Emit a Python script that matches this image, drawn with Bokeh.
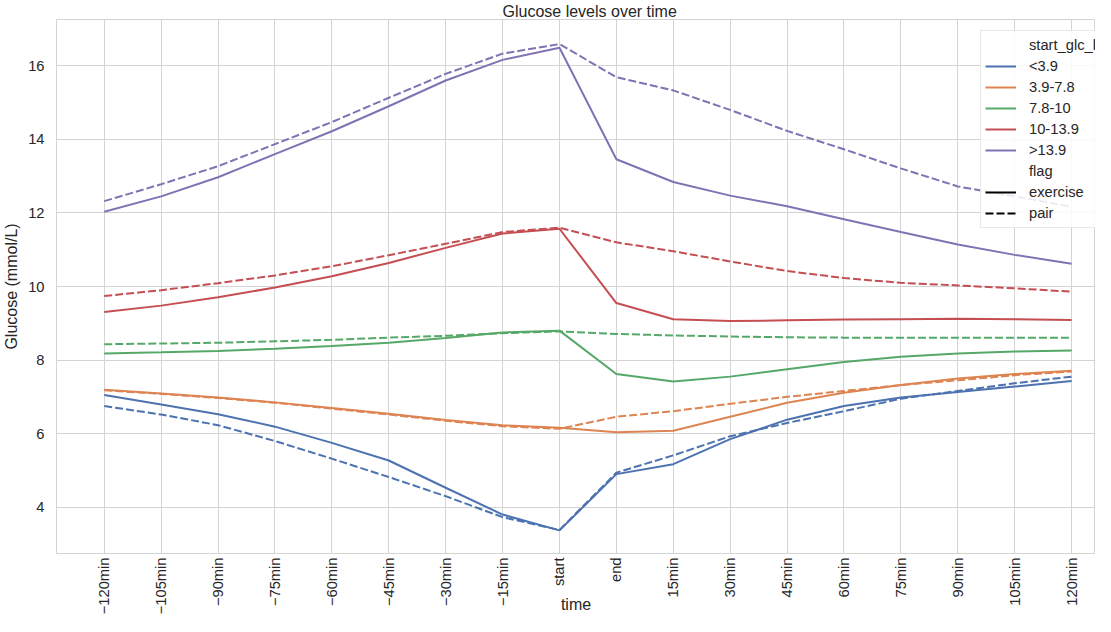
import math
from bokeh.plotting import figure
from bokeh.models import (FixedTicker, Legend, LegendItem, Range1d)
from bokeh.embed import file_html
from bokeh.resources import INLINE

# ---- data -----------------------------------------------------------------
times = ["\u2212120min", "\u2212105min", "\u221290min", "\u221275min", "\u221260min",
         "\u221245min", "\u221230min", "\u221215min", "start", "end", "15min", "30min",
         "45min", "60min", "75min", "90min", "105min", "120min"]

bins = ["<3.9", "3.9-7.8", "7.8-10", "10-13.9", ">13.9"]

exercise_lt39 = [7.05, 6.79, 6.53, 6.19, 5.75, 5.27, 4.53, 3.80, 3.37, 4.90, 5.17, 5.85, 6.38, 6.75, 6.98, 7.13, 7.28, 7.43]
pair_lt39 = [6.75, 6.52, 6.23, 5.80, 5.32, 4.82, 4.30, 3.73, 3.38, 4.94, 5.41, 5.93, 6.29, 6.61, 6.95, 7.16, 7.37, 7.55]

exercise_39_78 = [7.19, 7.09, 6.98, 6.85, 6.70, 6.54, 6.37, 6.23, 6.16, 6.04, 6.08, 6.46, 6.84, 7.11, 7.32, 7.50, 7.62, 7.71]
pair_39_78 = [7.18, 7.08, 6.97, 6.84, 6.68, 6.52, 6.35, 6.20, 6.13, 6.46, 6.61, 6.81, 7.00, 7.16, 7.32, 7.45, 7.59, 7.69]

exercise_78_10 = [8.18, 8.21, 8.25, 8.31, 8.38, 8.47, 8.60, 8.75, 8.80, 7.62, 7.42, 7.55, 7.75, 7.95, 8.09, 8.18, 8.23, 8.26]
pair_78_10 = [8.43, 8.45, 8.47, 8.51, 8.55, 8.61, 8.66, 8.73, 8.78, 8.71, 8.67, 8.64, 8.62, 8.61, 8.61, 8.61, 8.61, 8.61]

exercise_10_139 = [9.31, 9.48, 9.71, 9.97, 10.28, 10.64, 11.05, 11.44, 11.57, 9.55, 9.11, 9.06, 9.08, 9.10, 9.11, 9.12, 9.11, 9.09]
pair_10_139 = [9.74, 9.90, 10.09, 10.30, 10.55, 10.85, 11.16, 11.48, 11.60, 11.20, 10.96, 10.68, 10.42, 10.23, 10.10, 10.03, 9.95, 9.86]

exercise_gt139 = [12.03, 12.45, 12.97, 13.60, 14.22, 14.90, 15.60, 16.16, 16.49, 13.46, 12.84, 12.47, 12.18, 11.83, 11.48, 11.14, 10.86, 10.62]
pair_gt139 = [12.32, 12.78, 13.27, 13.87, 14.47, 15.13, 15.78, 16.33, 16.59, 15.69, 15.33, 14.80, 14.23, 13.73, 13.21, 12.72, 12.45, 12.17]

exercise_series = [exercise_lt39, exercise_39_78, exercise_78_10, exercise_10_139, exercise_gt139]
pair_series = [pair_lt39, pair_39_78, pair_78_10, pair_10_139, pair_gt139]

y_ticks = [4, 6, 8, 10, 12, 14, 16]

colors = ["#4c72b0", "#dd8452", "#55a868", "#c44e52", "#8172b3"]
FONT = "Liberation Sans"
TXT = "#262626"
GRID = "#d4d4d4"
DASH = "8 3"

xs = list(range(len(times)))

p = figure(width=1095, height=616, output_backend="svg", toolbar_location=None,
           x_range=Range1d(-0.839, 17.42), y_range=Range1d(2.742, 17.258),
           min_border_left=51, min_border_right=0, min_border_top=14, min_border_bottom=60)

p.title.text = "Glucose levels over time"
p.title.text_font = FONT
p.title.text_font_size = "16px"
p.title.text_font_style = "normal"
p.title.text_color = TXT
p.title.align = "left"
p.title.offset = 446
p.title.standoff = 0

p.background_fill_color = "white"
p.border_fill_color = "white"
p.outline_line_color = GRID
p.outline_line_width = 1

p.xaxis.ticker = FixedTicker(ticks=xs)
p.xaxis.major_label_overrides = {i: t for i, t in enumerate(times)}
p.xaxis.major_label_orientation = math.pi / 2
p.xaxis.axis_label = "time"
p.yaxis.ticker = FixedTicker(ticks=y_ticks)
p.yaxis.axis_label = "Glucose (mmol/L)"

for ax in (p.xaxis[0], p.yaxis[0]):
    ax.axis_line_color = None
    ax.major_tick_line_color = None
    ax.minor_tick_line_color = None
    ax.major_tick_out = 0
    ax.major_tick_in = 0
    ax.minor_tick_out = 0
    ax.minor_tick_in = 0
    ax.major_label_text_font = FONT
    ax.major_label_text_font_size = "14.7px"
    ax.major_label_text_color = TXT
    ax.axis_label_text_font = FONT
    ax.axis_label_text_font_size = "16px"
    ax.axis_label_text_font_style = "normal"
    ax.axis_label_text_color = TXT

p.xaxis.major_label_standoff = 4
p.xaxis.axis_label_standoff = -21
p.yaxis.major_label_standoff = 12
p.yaxis.axis_label_standoff = 5

p.xgrid.ticker = FixedTicker(ticks=xs)
p.xgrid.grid_line_color = GRID
p.ygrid.grid_line_color = GRID
p.xgrid.grid_line_width = 1
p.ygrid.grid_line_width = 1

solid_renderers = []
for c, ex, pr in zip(colors, exercise_series, pair_series):
    r = p.line(xs, ex, line_color=c, line_width=2)
    p.line(xs, pr, line_color=c, line_width=2, line_dash=DASH)
    solid_renderers.append(r)

# legend-only renderers (no visible data)
nan_y = [float("nan")] * len(xs)
blank = p.line(xs, nan_y, line_alpha=0)
ex_r = p.line(xs, nan_y, line_color="black", line_width=2)
pair_r = p.line(xs, nan_y, line_color="black", line_width=2, line_dash=DASH)

items = [LegendItem(label="start_glc_bin", renderers=[blank])]
for b, r in zip(bins, solid_renderers):
    items.append(LegendItem(label=b, renderers=[r]))
items.append(LegendItem(label="flag", renderers=[blank]))
items.append(LegendItem(label="exercise", renderers=[ex_r]))
items.append(LegendItem(label="pair", renderers=[pair_r]))

legend = Legend(items=items, location=(924, 325))
legend.label_text_font = FONT
legend.label_text_font_size = "14.7px"
legend.label_text_color = TXT
legend.label_height = 20
legend.glyph_height = 20
legend.glyph_width = 31
legend.label_standoff = 13
legend.spacing = 1
legend.padding = 4
legend.margin = 0
legend.border_line_color = GRID
legend.border_line_width = 1
legend.background_fill_color = "white"
legend.background_fill_alpha = 0.85
p.add_layout(legend, "center")

open("out.html", "w").write(file_html(p, INLINE))
